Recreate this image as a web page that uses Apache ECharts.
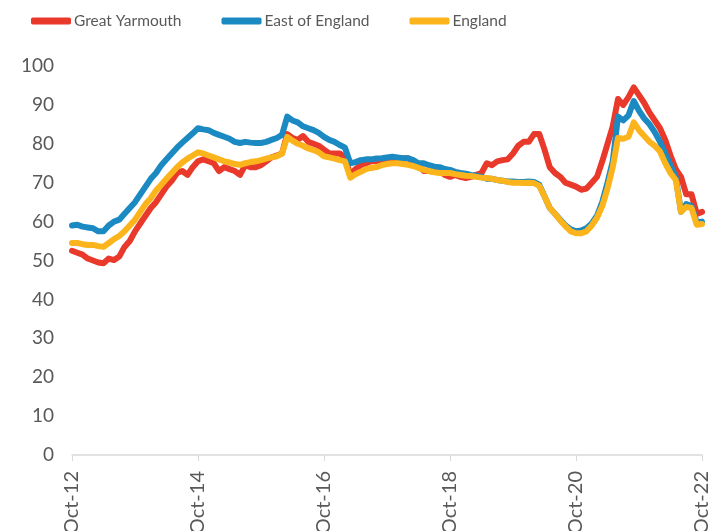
<!DOCTYPE html>
<html>
<head>
<meta charset="utf-8">
<script src="https://cdn.jsdelivr.net/npm/echarts@6/dist/echarts.min.js"></script>
<style>
  html, body { margin: 0; padding: 0; background: #fff; }
  #main { width: 724px; height: 531px; }
</style>
</head>
<body>
<div id="main"></div>
<script>
// month labels Oct-12 .. Oct-22
var monthNames = ["Jan", "Feb", "Mar", "Apr", "May", "Jun", "Jul", "Aug", "Sep", "Oct", "Nov", "Dec"];
var categories = [];
for (var k = 0; k <= 120; k++) {
  var m = (9 + k) % 12;
  var yr = 12 + Math.floor((9 + k) / 12);
  categories.push(monthNames[m] + "-" + yr);
}

var greatYarmouth = [
  52.5, 52, 51.5, 50.5, 50, 49.5, 49.3, 50.5, 50.1, 51,
  53.5, 55, 57.5, 59.5, 61.5, 63.5, 65, 67, 69, 70.5,
  72.5, 73, 72, 74, 75.5, 76, 75.5, 75, 73, 74,
  73.5, 73, 72, 74.5, 74, 74, 74.5, 75.5, 76.5, 77,
  77.5, 82.5, 81.5, 81, 82, 80.5, 80, 79.5, 78.5, 77.5,
  77.5, 77.5, 76.5, 72, 73.5, 74.5, 75, 75.5, 75.5, 76,
  76, 76, 76, 76.2, 76.3, 75.5, 74.5, 73, 73, 72.8,
  73, 72, 71.5, 72, 71.5, 71.2, 71.5, 72, 72.5, 75,
  74.5, 75.5, 75.8, 76, 77.5, 79.5, 80.5, 80.5, 82.5, 82.5,
  78.5, 74, 72.5, 71.5, 70, 69.5, 69, 68.2, 68.5, 70,
  71.5, 75.5, 80, 84.5, 91.5, 90, 92, 94.5, 92.5, 90.5,
  88, 86, 84, 81, 77, 73.5, 71.5, 67, 67, 62,
  62.5
];

var eastOfEngland = [
  59, 59.2, 58.7, 58.5, 58.3, 57.5, 57.5, 59, 60, 60.5,
  62, 63.5, 65, 67, 69, 71, 72.5, 74.5, 76, 77.5,
  79, 80.3, 81.5, 82.7, 84, 83.7, 83.5, 82.8, 82.3, 81.8,
  81.3, 80.5, 80.2, 80.5, 80.3, 80.2, 80.2, 80.5, 81, 81.5,
  82.3, 87, 86, 85.5, 84.5, 84, 83.5, 82.8, 81.8, 81,
  80.5, 79.7, 79, 75, 75.3, 75.8, 76, 76, 76.2, 76.3,
  76.5, 76.7, 76.5, 76.3, 76.3, 75.8, 75, 75, 74.5, 74.1,
  74, 73.5, 73.3, 72.8, 72.5, 72.3, 72, 71.8, 71.5, 71,
  71, 70.7, 70.5, 70.3, 70.3, 70.2, 70.2, 70.3, 70.2, 69.5,
  66.5, 63.5, 62, 60.5, 59, 58, 57.5, 57.7, 58.3, 59.5,
  61.5, 65, 70, 75.5, 87, 86, 87.3, 91, 88.5, 86.5,
  85, 83, 80.5, 77.5, 74.5, 71.5, 62.5, 64.5, 64, 59.8,
  60
];

var england = [
  54.5, 54.5, 54.2, 54, 54, 53.7, 53.5, 54.5, 55.5, 56.3,
  57.5, 59, 60.5, 62.5, 64.5, 66, 68, 69.5, 71, 72.5,
  74, 75.2, 76.2, 77, 77.8, 77.5, 77, 76.5, 76, 75.5,
  75.2, 74.8, 74.6, 75, 75.3, 75.5, 75.8, 76.2, 76.5, 76.8,
  77.5, 81.8, 80.8, 80, 79.5, 78.8, 78.4, 77.8, 76.8, 76.5,
  76.2, 75.8, 75.5, 71.3, 72.2, 72.8, 73.5, 73.8, 74, 74.5,
  74.8, 75, 75, 74.8, 74.6, 74.3, 73.8, 73.3, 73, 72.7,
  72.5, 72.5, 72.5, 72.2, 72, 71.8, 71.7, 71.5, 71.3, 71.2,
  71, 70.7, 70.5, 70.2, 70, 70, 69.9, 70, 69.9, 69.2,
  66.5, 63.5, 62, 60.3, 58.8, 57.5, 57, 57, 57.5, 59,
  61, 64, 68.5, 74, 81.5, 81.3, 81.8, 85.5, 83.5, 82,
  80.5, 79.5, 78, 75, 72.5, 70.7, 62.5, 63.8, 63.5, 59.2,
  59.4
];

var chart = echarts.init(document.getElementById("main"));

function lineSeries(name, data, color) {
  return {
    name: name,
    type: "line",
    data: data,
    symbol: "none",
    lineStyle: { width: 6, color: color, cap: "round", join: "round" },
    itemStyle: { color: color }
  };
}

chart.setOption({
  animation: false,
  textStyle: { fontFamily: "Lato, 'Open Sans', sans-serif" },
  legend: {
    top: 8,
    left: 26,
    itemWidth: 40,
    itemHeight: 7,
    itemGap: 40,
    icon: "roundRect",
    textStyle: { color: "#595959", fontSize: 15.5, padding: [0, 0, 0, -2] },
    data: ["Great Yarmouth", "East of England", "England"]
  },
  grid: { left: 72, right: 22, top: 66, bottom: 76, outerBoundsMode: "none" },
  xAxis: {
    type: "category",
    data: categories,
    boundaryGap: false,
    axisLine: { lineStyle: { color: "#d9d9d9", width: 1.5 } },
    axisTick: { interval: 23, length: 6, lineStyle: { color: "#d9d9d9" } },
    axisLabel: { interval: 23, rotate: 90, color: "#595959", fontSize: 20, margin: 16 }
  },
  yAxis: {
    type: "value",
    min: 0,
    max: 100,
    interval: 10,
    axisLine: { show: false },
    axisTick: { show: false },
    splitLine: { show: false },
    axisLabel: { color: "#595959", fontSize: 19, margin: 18 }
  },
  series: [
    lineSeries("Great Yarmouth", greatYarmouth, "#E8392B"),
    lineSeries("East of England", eastOfEngland, "#1B8AC2"),
    lineSeries("England", england, "#FBB41C")
  ]
});
</script>
</body>
</html>
